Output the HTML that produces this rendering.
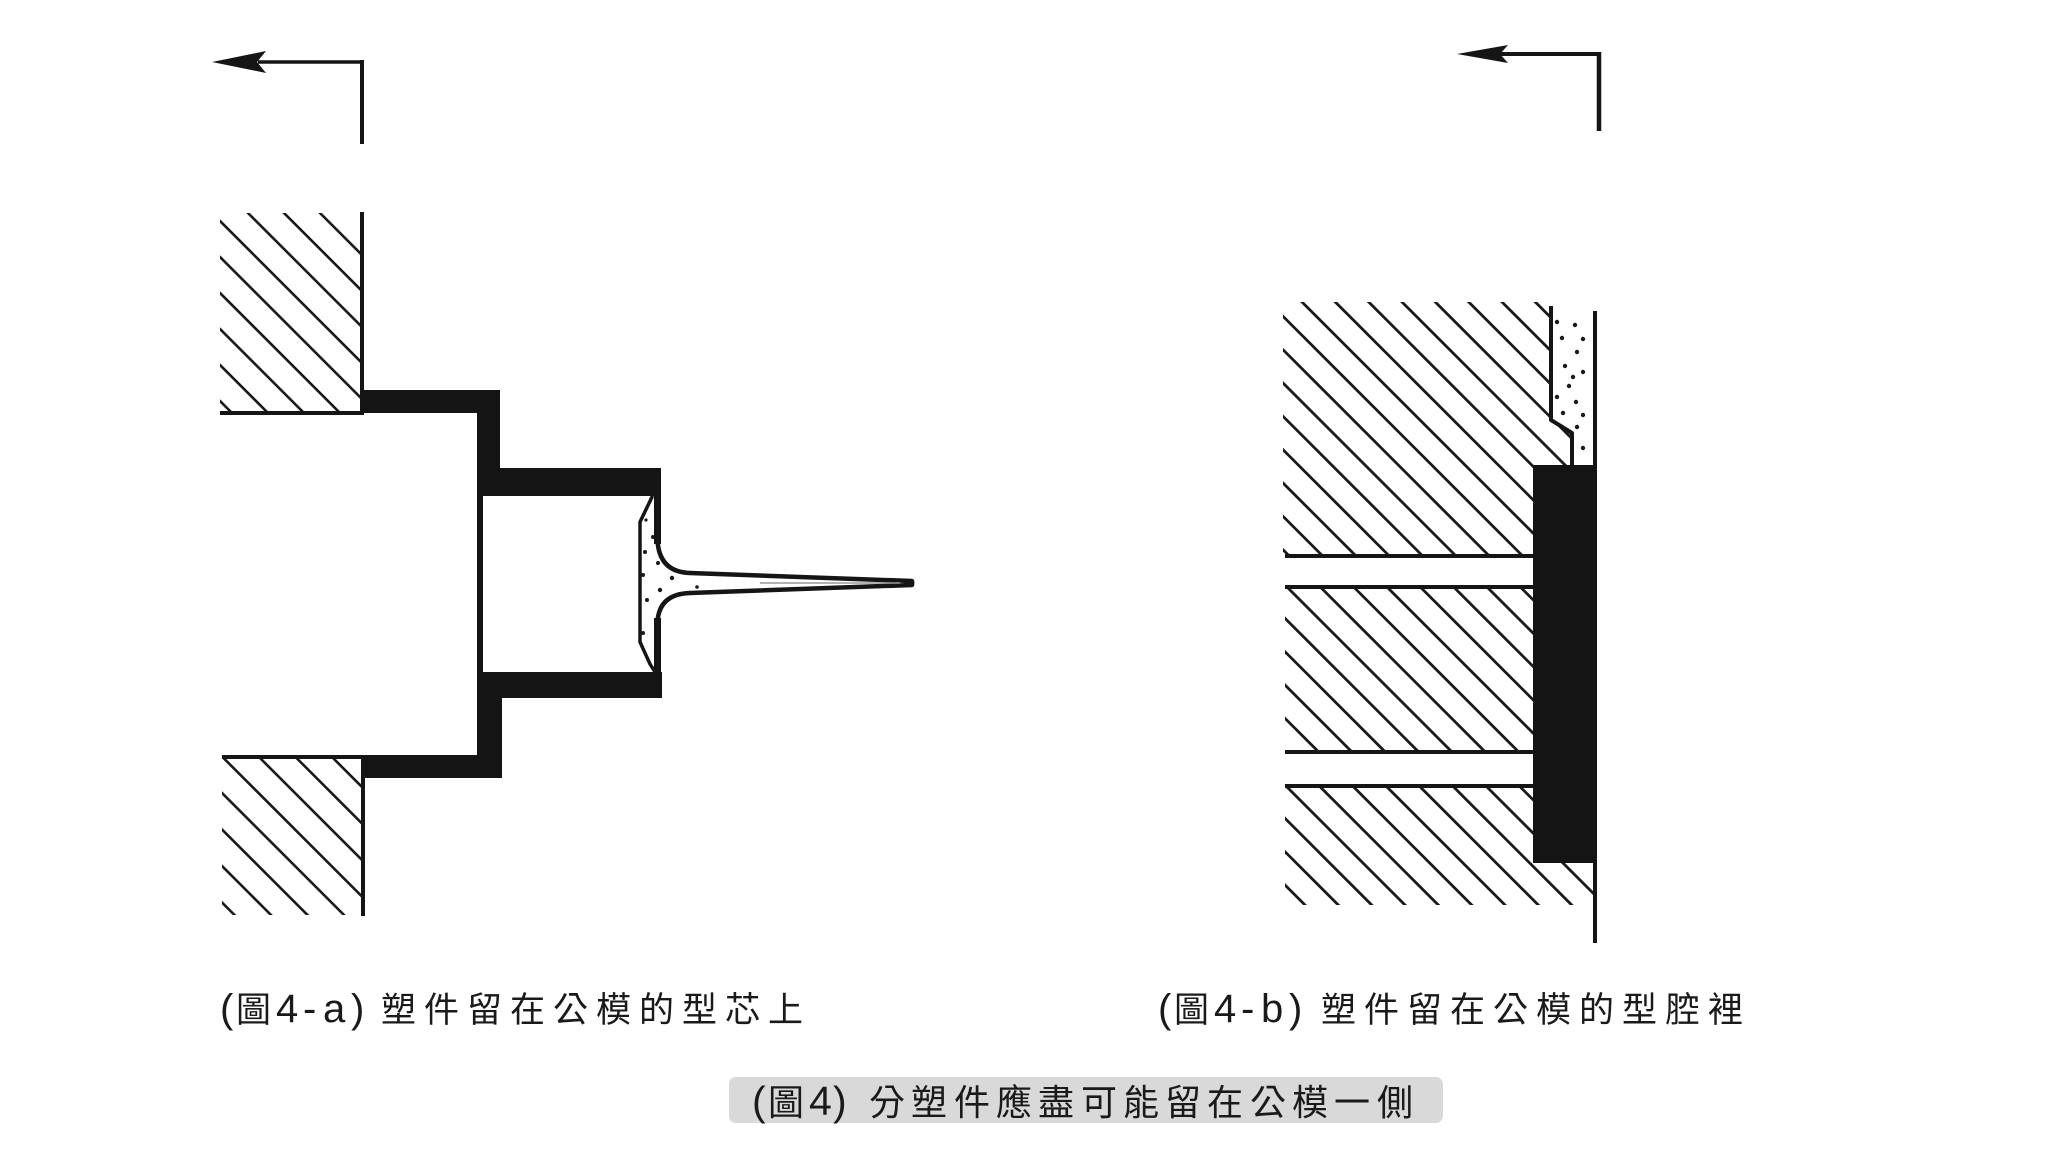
<!DOCTYPE html>
<html>
<head>
<meta charset="utf-8">
<style>
  html,body{margin:0;padding:0;background:#fff;width:2048px;height:1152px;overflow:hidden;}
  svg{display:block;}
  .t{font-family:"Liberation Sans","Noto Sans CJK TC",sans-serif;fill:#1a1a1a;}
</style>
</head>
<body>
<svg width="2048" height="1152" viewBox="0 0 2048 1152" xmlns="http://www.w3.org/2000/svg">
  <defs>
    <clipPath id="clipA1"><rect x="220" y="213" width="142" height="200"/></clipPath>
    <clipPath id="clipA2"><rect x="222" y="757" width="141" height="158"/></clipPath>
    <clipPath id="clipB">
      <path d="M1283,302 L1551,302 L1551,420 L1572,433 L1572,465 L1533,465 L1533,556 L1283,556 Z"/>
      <path d="M1285,587 H1533 V752 H1285 Z"/>
      <path d="M1285,786 H1533 V863 H1595 V905 H1285 Z"/>
    </clipPath>
  </defs>

  <!-- ================= LEFT FIGURE ================= -->
  <g stroke="#151515" fill="none">
    <line x1="258" y1="62" x2="362" y2="62" stroke-width="3.5"/>
    <line x1="362" y1="60" x2="362" y2="144" stroke-width="4"/>
  </g>
  <polygon points="212,62 266,51 257,62 266,73" fill="#151515"/>

  <g clip-path="url(#clipA1)" stroke="#1a1a1a" stroke-width="2.6">
    <line x1="200" y1="93" x2="380" y2="273"/>
    <line x1="200" y1="129" x2="380" y2="309"/>
    <line x1="200" y1="165" x2="380" y2="345"/>
    <line x1="200" y1="201" x2="380" y2="381"/>
    <line x1="200" y1="237" x2="380" y2="417"/>
    <line x1="200" y1="273" x2="380" y2="453"/>
    <line x1="200" y1="309" x2="380" y2="489"/>
    <line x1="200" y1="345" x2="380" y2="525"/>
    <line x1="200" y1="381" x2="380" y2="561"/>
  </g>
  <g stroke="#151515" fill="none">
    <line x1="362" y1="212" x2="362" y2="415" stroke-width="4"/>
    <line x1="220" y1="413" x2="364" y2="413" stroke-width="4"/>
  </g>

  <g clip-path="url(#clipA2)" stroke="#1a1a1a" stroke-width="2.6">
    <line x1="200" y1="625" x2="400" y2="825"/>
    <line x1="200" y1="661.5" x2="400" y2="861.5"/>
    <line x1="200" y1="698" x2="400" y2="898"/>
    <line x1="200" y1="734.5" x2="395.5" y2="930"/>
    <line x1="200" y1="771" x2="359" y2="930"/>
    <line x1="200" y1="807.5" x2="322.5" y2="930"/>
    <line x1="200" y1="844" x2="286" y2="930"/>
    <line x1="200" y1="880.5" x2="249.5" y2="930"/>
  </g>
  <g stroke="#151515" fill="none">
    <line x1="222" y1="757" x2="480" y2="757" stroke-width="4"/>
    <line x1="363" y1="755" x2="363" y2="916" stroke-width="4"/>
  </g>

  <g fill="#141414">
    <rect x="362" y="390" width="138" height="23"/>
    <rect x="477" y="390" width="23" height="106"/>
    <rect x="477" y="468" width="184" height="28"/>
    <rect x="477" y="496" width="6" height="176"/>
    <rect x="477" y="672" width="185" height="26"/>
    <rect x="477" y="672" width="25" height="106"/>
    <rect x="363" y="755" width="139" height="23"/>
    <rect x="654" y="494" width="7" height="50"/>
    <rect x="654" y="618" width="7" height="56"/>
  </g>

  <g stroke="#151515" fill="none" stroke-linecap="round" stroke-linejoin="round">
    <path d="M657.5,540 Q659,572 690,573 L912,581" stroke-width="4.5"/>
    <path d="M657.5,622 Q659,594 690,593 L912,585" stroke-width="4.5"/>
    <path d="M652,497 L640,522 L640,642 L650,664 L655,672" stroke-width="3.5"/>
  </g>
  <line x1="760" y1="583" x2="900" y2="583" stroke="#999" stroke-width="1.5"/>
  <circle cx="911" cy="583" r="3.5" fill="#151515"/>
  <g fill="#1a1a1a">
    <circle cx="653" cy="537" r="2"/>
    <circle cx="645" cy="552" r="2"/>
    <circle cx="658" cy="563" r="2"/>
    <circle cx="643" cy="575" r="2"/>
    <circle cx="672" cy="578" r="2.2"/>
    <circle cx="660" cy="590" r="2.2"/>
    <circle cx="647" cy="600" r="2"/>
    <circle cx="643" cy="633" r="2"/>
    <circle cx="697" cy="587" r="1.8"/>
    <circle cx="646" cy="520" r="1.6"/>
  </g>

  <!-- ================= RIGHT FIGURE ================= -->
  <g stroke="#151515" fill="none">
    <line x1="1500" y1="54" x2="1599" y2="54" stroke-width="4"/>
    <line x1="1599" y1="52" x2="1599" y2="131" stroke-width="4.5"/>
  </g>
  <polygon points="1457,54 1508,45 1500,54 1508,63" fill="#151515"/>

  <g clip-path="url(#clipB)" stroke="#1a1a1a" stroke-width="2.8">
    <line x1="1270" y1="870" x2="1320" y2="920"/>
    <line x1="1270" y1="836.7" x2="1353.3" y2="920"/>
    <line x1="1270" y1="803.3" x2="1386.7" y2="920"/>
    <line x1="1270" y1="770" x2="1420" y2="920"/>
    <line x1="1270" y1="736.7" x2="1453.3" y2="920"/>
    <line x1="1270" y1="703.3" x2="1486.7" y2="920"/>
    <line x1="1270" y1="670" x2="1520" y2="920"/>
    <line x1="1270" y1="636.7" x2="1553.3" y2="920"/>
    <line x1="1270" y1="603.3" x2="1586.7" y2="920"/>
    <line x1="1270" y1="570" x2="1610" y2="910"/>
    <line x1="1270" y1="536.7" x2="1610" y2="876.7"/>
    <line x1="1270" y1="503.3" x2="1610" y2="843.3"/>
    <line x1="1270" y1="470" x2="1610" y2="810"/>
    <line x1="1270" y1="436.7" x2="1610" y2="776.7"/>
    <line x1="1270" y1="403.3" x2="1610" y2="743.3"/>
    <line x1="1270" y1="370" x2="1610" y2="710"/>
    <line x1="1270" y1="336.7" x2="1610" y2="676.7"/>
    <line x1="1270" y1="303.3" x2="1610" y2="643.3"/>
    <line x1="1290" y1="290" x2="1610" y2="610"/>
    <line x1="1323.3" y1="290" x2="1610" y2="576.7"/>
    <line x1="1356.7" y1="290" x2="1610" y2="543.3"/>
    <line x1="1390" y1="290" x2="1610" y2="510"/>
    <line x1="1423.3" y1="290" x2="1610" y2="476.7"/>
    <line x1="1456.7" y1="290" x2="1610" y2="443.3"/>
    <line x1="1490" y1="290" x2="1610" y2="410"/>
    <line x1="1523.3" y1="290" x2="1610" y2="376.7"/>
  </g>

  <g stroke="#151515" stroke-width="4">
    <line x1="1285" y1="556" x2="1535" y2="556"/>
    <line x1="1285" y1="587" x2="1535" y2="587"/>
    <line x1="1285" y1="752" x2="1535" y2="752"/>
    <line x1="1285" y1="786" x2="1535" y2="786"/>
  </g>

  <g stroke="#151515" fill="none" stroke-linejoin="round">
    <path d="M1551,306 L1551,420 L1572,433 L1572,466" stroke-width="4"/>
    <line x1="1595" y1="311" x2="1595" y2="943" stroke-width="4"/>
  </g>

  <rect x="1533" y="465" width="62" height="398" fill="#141414"/>

  <g fill="#1a1a1a">
    <circle cx="1557" cy="322" r="2.2"/>
    <circle cx="1575" cy="325" r="2.2"/>
    <circle cx="1562" cy="338" r="2.2"/>
    <circle cx="1583" cy="339" r="2.2"/>
    <circle cx="1577" cy="352" r="2.2"/>
    <circle cx="1565" cy="366" r="2.2"/>
    <circle cx="1583" cy="372" r="2.2"/>
    <circle cx="1573" cy="377" r="2.2"/>
    <circle cx="1569" cy="386" r="2.2"/>
    <circle cx="1557" cy="397" r="2.2"/>
    <circle cx="1576" cy="402" r="2.2"/>
    <circle cx="1563" cy="413" r="2.2"/>
    <circle cx="1583" cy="415" r="2.2"/>
    <circle cx="1577" cy="427" r="2.2"/>
    <circle cx="1583" cy="448" r="2.2"/>
  </g>

  <!-- ================= CAPTIONS ================= -->
  <g class="t">
    <text x="220" y="1022" font-size="40">(</text>
    <text x="236" y="1022" font-size="35">圖</text>
    <text x="276" y="1022" font-size="40">4</text>
    <text x="303" y="1022" font-size="40">-</text>
    <text x="323" y="1022" font-size="40">a</text>
    <text x="351" y="1022" font-size="40">)</text>
    <text y="1022" font-size="35" x="381 424 467 510 553 596 639 682 725 768">塑件留在公模的型芯上</text>
  </g>

  <g class="t">
    <text x="1158" y="1022" font-size="40">(</text>
    <text x="1174" y="1022" font-size="35">圖</text>
    <text x="1214" y="1022" font-size="40">4</text>
    <text x="1241" y="1022" font-size="40">-</text>
    <text x="1261" y="1022" font-size="40">b</text>
    <text x="1289" y="1022" font-size="40">)</text>
    <text y="1022" font-size="35" x="1321 1364 1407 1450 1493 1536 1579 1622 1665 1708">塑件留在公模的型腔裡</text>
  </g>

  <rect x="729" y="1077" width="714" height="46" rx="7" ry="7" fill="#d9d9d9"/>
  <g class="t">
    <text x="752" y="1115" font-size="41">(</text>
    <text x="768" y="1115" font-size="36">圖</text>
    <text x="809" y="1115" font-size="41">4</text>
    <text x="833" y="1115" font-size="41">)</text>
    <text y="1115" font-size="36" x="869 911 954 996 1038 1081 1123 1165 1207 1250 1292 1334 1377">分塑件應盡可能留在公模一側</text>
  </g>
</svg>
</body>
</html>
